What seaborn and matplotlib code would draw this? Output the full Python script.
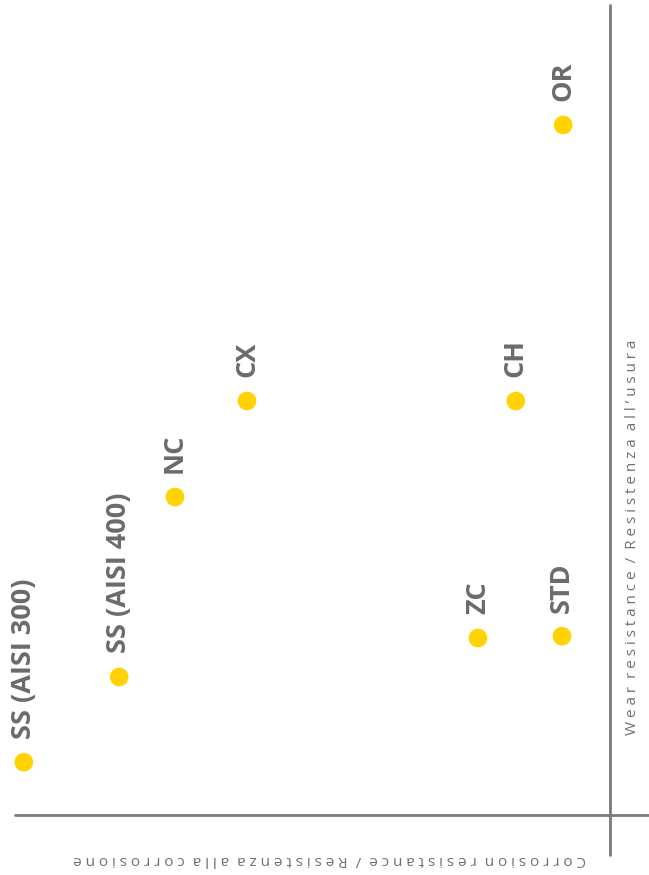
import pandas as pd
import matplotlib.pyplot as plt
import seaborn as sns

# Coatings positioned by corrosion resistance vs wear resistance (chart is drawn rotated)
coatings = ['OR', 'CX', 'CH', 'NC', 'SS (AISI 400)', 'ZC', 'STD', 'SS (AISI 300)']
corrosion = [0.78, 6.05, 1.57, 7.25, 8.18, 2.2, 0.8, 9.77]
wear = [11.5, 6.9, 6.9, 5.3, 2.3, 2.95, 2.98, 0.88]

wear_label = 'Wear resistance / Resistenza all\u2019usura'
corrosion_label = 'Corrosion resistance / Resistenza alla corrosione'

data = pd.DataFrame({'coating': coatings, 'corrosion': corrosion, 'wear': wear})


def spaced(text, gap='\u2005'):
    # fake letter-spacing: put a narrow space between the letters of each word
    return '  '.join(gap.join(word) for word in text.split(' '))


sns.set_style("white")
plt.rcParams['font.family'] = ['Open Sans', 'DejaVu Sans']

fig = plt.figure(figsize=(6.49, 8.75), dpi=100)
ax = fig.add_axes([0, 0, 1, 1])

sns.scatterplot(data=data, x='corrosion', y='wear', ax=ax, color='#FFD200',
                s=180, edgecolor='none', zorder=3)

for _, row in data.iterrows():
    ax.annotate(row['coating'], (row['corrosion'], row['wear']),
                xytext=(0, 17), textcoords='offset points',
                rotation=90, rotation_mode='anchor', ha='left', va='center',
                fontsize=19.5, fontweight='bold', color='#6b6b6b')

# corrosion grows to the left, wear grows upwards
ax.set_xlim(610 / 60, -39 / 60)
ax.set_ylim(-1.0, 815 / 60)

ax.axvline(0, ymin=20 / 875, ymax=870 / 875, color='#7a7a7a', lw=2)
ax.axhline(0, xmin=15 / 649, xmax=1, color='#7a7a7a', lw=2)

ax.text(633 / 649, 1 - 537 / 875, spaced(wear_label),
        transform=ax.transAxes, rotation=90, ha='center', va='center',
        fontsize=11, color='#707070')
ax.text(330 / 649, 1 - 860 / 875, spaced(corrosion_label),
        transform=ax.transAxes, rotation=180, ha='center', va='center',
        fontsize=11, color='#707070')

ax.set_xlabel('')
ax.set_ylabel('')
ax.set_xticks([])
ax.set_yticks([])
sns.despine(ax=ax, left=True, bottom=True)

fig.savefig('out.png', dpi=100)
